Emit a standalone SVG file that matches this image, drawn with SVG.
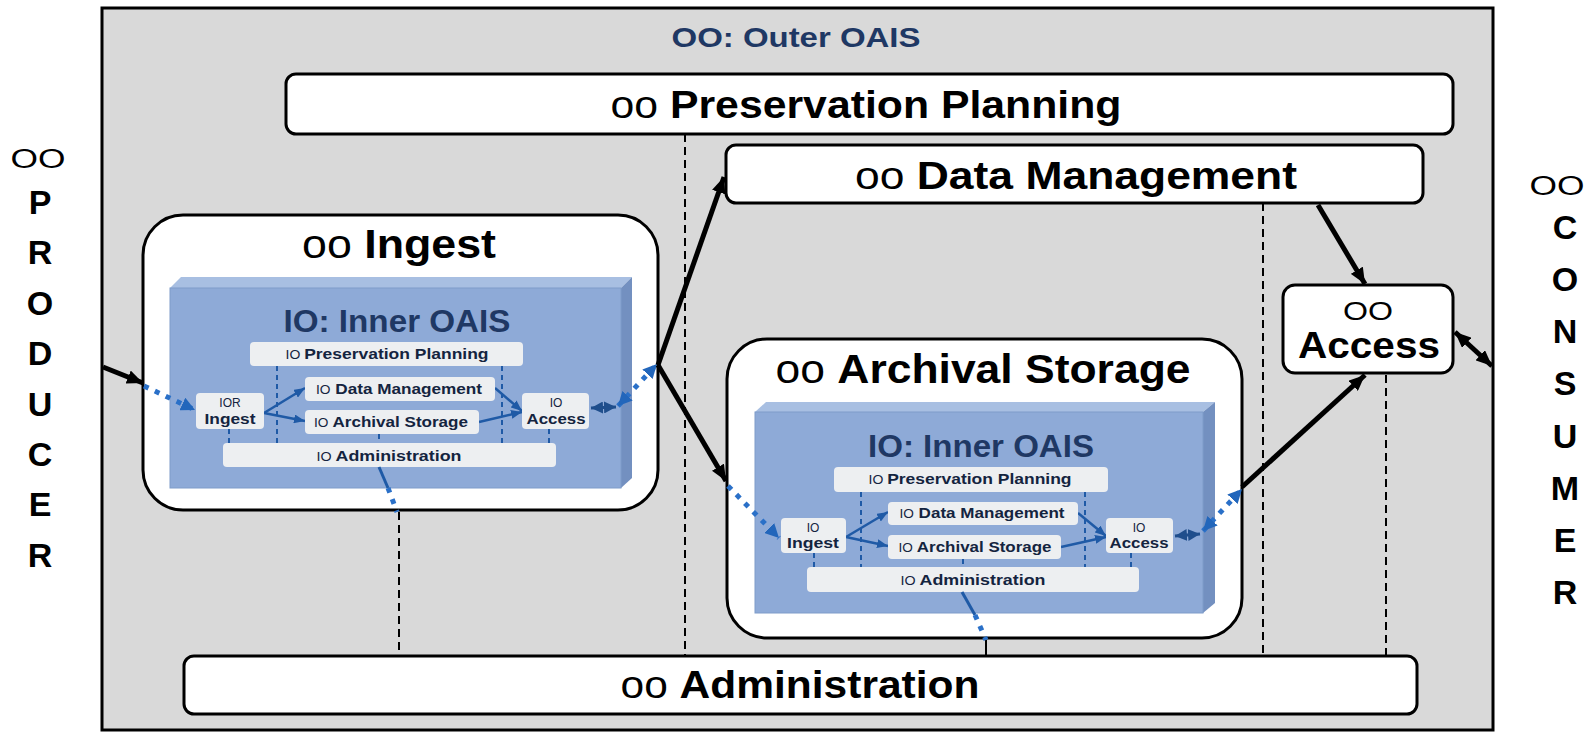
<svg xmlns="http://www.w3.org/2000/svg" width="1591" height="735" viewBox="0 0 1591 735">
<style>
.big{font-family:"Liberation Sans",Arial,sans-serif;fill:#000}
.b{font-weight:bold}
.r{font-weight:normal}
.box{fill:#fff;stroke:#000;stroke-width:3}
.title{font-family:"Liberation Sans",Arial,sans-serif;font-weight:bold;fill:#1f3864}
.ib{fill:#f2f2f2;fill-opacity:0.95}
.it{font-family:"Liberation Sans",Arial,sans-serif;font-weight:bold;font-size:15px;fill:#14243f}
.io{font-weight:normal;font-size:12px}
.front{fill:#8eaad7;stroke:#7e9cc9;stroke-width:1}
.top{fill:#a8bfe2}
.side{fill:#7390c0}
.dash{stroke:#000;stroke-width:2;stroke-dasharray:8 5;fill:none}
.bdash{stroke:#1f5aa6;stroke-width:2;stroke-dasharray:5 4;fill:none}
.blk{stroke:#000;stroke-width:5;fill:none}
.barr{stroke:#1f5aa6;stroke-width:2.5;fill:none}
.dot{stroke:#2a70c8;stroke-width:5;stroke-dasharray:5 7;fill:none}
.bsolid{stroke:#1f5aa6;stroke-width:3;fill:none}
.side-l{font-family:"Liberation Sans",Arial,sans-serif;font-weight:bold;font-size:34px;fill:#000}
.oo{font-family:"Liberation Sans",Arial,sans-serif;font-weight:normal;font-size:27px;fill:#000}
</style>
<defs>
<marker id="ah" viewBox="0 0 16 14" refX="16" refY="7" markerWidth="16" markerHeight="14" markerUnits="userSpaceOnUse" orient="auto-start-reverse"><path d="M0,0 L16,7 L0,14 z" fill="#000"/></marker>
<marker id="bh" viewBox="0 0 11 9" refX="11" refY="4.5" markerWidth="11" markerHeight="9" markerUnits="userSpaceOnUse" orient="auto-start-reverse"><path d="M0,0 L11,4.5 L0,9 z" fill="#1f5aa6"/></marker>
<marker id="dh" viewBox="0 0 14 14" refX="14" refY="7" markerWidth="14" markerHeight="14" markerUnits="userSpaceOnUse" orient="auto-start-reverse"><path d="M0,0 L14,7 L0,14 z" fill="#2266bb"/></marker>
<marker id="nh" viewBox="0 0 12 12" refX="12" refY="6" markerWidth="12" markerHeight="12" markerUnits="userSpaceOnUse" orient="auto-start-reverse"><path d="M0,0 L12,6 L0,12 z" fill="#1f4e8c"/></marker>
</defs>

<g id="outer-oais">
<rect x="102" y="8" width="1391" height="722" fill="#d9d9d9" stroke="#000" stroke-width="3"/>
<text class="title" x="796" y="47" font-size="27" text-anchor="middle" textLength="249" lengthAdjust="spacingAndGlyphs">OO: Outer OAIS</text>
</g>

<g id="producer">
<text class="oo" x="38" y="168" text-anchor="middle" textLength="55" lengthAdjust="spacingAndGlyphs">OO</text>
<text class="side-l" text-anchor="middle">
<tspan x="40" y="214">P</tspan><tspan x="40" y="264">R</tspan><tspan x="40" y="315">O</tspan><tspan x="40" y="365">D</tspan><tspan x="40" y="416">U</tspan><tspan x="40" y="466">C</tspan><tspan x="40" y="516">E</tspan><tspan x="40" y="567">R</tspan>
</text>
</g>

<g id="consumer">
<text class="oo" x="1557" y="195" text-anchor="middle" textLength="55" lengthAdjust="spacingAndGlyphs">OO</text>
<text class="side-l" text-anchor="middle">
<tspan x="1565" y="239">C</tspan><tspan x="1565" y="291">O</tspan><tspan x="1565" y="343">N</tspan><tspan x="1565" y="395">S</tspan><tspan x="1565" y="448">U</tspan><tspan x="1565" y="500">M</tspan><tspan x="1565" y="552">E</tspan><tspan x="1565" y="604">R</tspan>
</text>
</g>

<g id="dashed-links">
<line class="dash" x1="685" y1="134" x2="685" y2="655"/>
<line class="dash" x1="1263" y1="203" x2="1263" y2="655"/>
<line class="dash" x1="1386" y1="375" x2="1386" y2="655"/>
<line class="dash" x1="399" y1="512" x2="399" y2="655"/>
<line stroke="#000" stroke-width="2" x1="986" y1="640" x2="986" y2="655"/>
</g>

<g id="preservation-planning">
<rect class="box" x="286" y="74" width="1167" height="60" rx="10"/>
<text class="big" x="866" y="118" font-size="39" text-anchor="middle" textLength="511" lengthAdjust="spacingAndGlyphs"><tspan class="r">oo </tspan><tspan class="b">Preservation  Planning</tspan></text>
</g>

<g id="data-management">
<rect class="box" x="726" y="145" width="697" height="58" rx="10"/>
<text class="big" x="1076" y="189" font-size="39" text-anchor="middle" textLength="442" lengthAdjust="spacingAndGlyphs"><tspan class="r">oo  </tspan><tspan class="b">Data Management</tspan></text>
</g>

<g id="administration">
<rect class="box" x="184" y="656" width="1233" height="58" rx="10"/>
<text class="big" x="800" y="698" font-size="39" text-anchor="middle" textLength="359" lengthAdjust="spacingAndGlyphs"><tspan class="r">oo </tspan><tspan class="b">Administration</tspan></text>
</g>

<g id="access">
<rect class="box" x="1283" y="285" width="170" height="88" rx="12"/>
<text class="big r" x="1368" y="320" font-size="26" text-anchor="middle" textLength="50" lengthAdjust="spacingAndGlyphs">OO</text>
<text class="big b" x="1369" y="358" font-size="36" text-anchor="middle" textLength="142" lengthAdjust="spacingAndGlyphs">Access</text>
</g>

<g id="ingest">
<rect class="box" x="143" y="215" width="515" height="295" rx="40"/>
<text class="big" x="399" y="258" font-size="40" text-anchor="middle" textLength="194" lengthAdjust="spacingAndGlyphs"><tspan class="r">oo  </tspan><tspan class="b">Ingest</tspan></text>
<polygon class="top" points="170,288 181,277 632,277 621,288"/>
<polygon class="side" points="621,288 632,277 632,478 621,488"/>
<rect class="front" x="170" y="288" width="451" height="200"/>
<text class="title" x="397" y="332" font-size="31" text-anchor="middle" textLength="227" lengthAdjust="spacingAndGlyphs">IO: Inner OAIS</text>
<g id="ingest-io-links">
<line class="bdash" x1="229" y1="429" x2="229" y2="443"/>
<line class="bdash" x1="277" y1="366" x2="277" y2="443"/>
<line class="bdash" x1="379" y1="434" x2="379" y2="443"/>
<line class="bdash" x1="502" y1="366" x2="502" y2="443"/>
<line class="bdash" x1="549" y1="429" x2="549" y2="443"/>
<line class="barr" x1="264" y1="413" x2="305" y2="388" marker-end="url(#bh)"/>
<line class="barr" x1="264" y1="413" x2="305" y2="421" marker-end="url(#bh)"/>
<line class="barr" x1="495" y1="388" x2="522" y2="411" marker-end="url(#bh)"/>
<line class="barr" x1="479" y1="422" x2="522" y2="412" marker-end="url(#bh)"/>
<line stroke="#1f4e8c" stroke-width="3" x1="591" y1="408" x2="616" y2="407" marker-start="url(#nh)" marker-end="url(#nh)"/>
</g>
<rect class="ib" x="250" y="342" width="273" height="24" rx="4"/>
<text class="it" x="387" y="359" text-anchor="middle" textLength="203" lengthAdjust="spacingAndGlyphs"><tspan class="io">IO </tspan> Preservation Planning</text>
<rect class="ib" x="305" y="377" width="190" height="24" rx="4"/>
<text class="it" x="399" y="394" text-anchor="middle" textLength="166" lengthAdjust="spacingAndGlyphs"><tspan class="io">IO</tspan> Data Management</text>
<rect class="ib" x="305" y="410" width="174" height="24" rx="4"/>
<text class="it" x="391" y="427" text-anchor="middle" textLength="154" lengthAdjust="spacingAndGlyphs"><tspan class="io">IO</tspan> Archival Storage</text>
<rect class="ib" x="196" y="393" width="68" height="36" rx="4"/>
<text class="it" x="230" y="407" text-anchor="middle"><tspan class="io" font-size="13">IOR</tspan></text>
<text class="it" x="230" y="424" text-anchor="middle" font-size="16" textLength="51" lengthAdjust="spacingAndGlyphs">Ingest</text>
<rect class="ib" x="522" y="393" width="67" height="36" rx="4"/>
<text class="it" x="556" y="407" text-anchor="middle"><tspan class="io" font-size="13">IO</tspan></text>
<text class="it" x="556" y="424" text-anchor="middle" font-size="16" textLength="59" lengthAdjust="spacingAndGlyphs">Access</text>
<rect class="ib" x="223" y="443" width="333" height="24" rx="4"/>
<text class="it" x="389" y="461" text-anchor="middle" textLength="145" lengthAdjust="spacingAndGlyphs"><tspan class="io">IO </tspan> Administration</text>
</g>

<g id="archival-storage">
<rect class="box" x="727" y="339" width="515" height="299" rx="40"/>
<text class="big" x="983" y="383" font-size="40" text-anchor="middle" textLength="415" lengthAdjust="spacingAndGlyphs"><tspan class="r">oo  </tspan><tspan class="b">Archival  Storage</tspan></text>
<polygon class="top" points="755,412 766,402 1215,402 1203,412"/>
<polygon class="side" points="1203,412 1215,402 1215,603 1203,613"/>
<rect class="front" x="755" y="412" width="448" height="201"/>
<text class="title" x="981" y="457" font-size="31" text-anchor="middle" textLength="226" lengthAdjust="spacingAndGlyphs">IO: Inner OAIS</text>
<g id="archival-io-links">
<line class="bdash" x1="814" y1="553" x2="814" y2="567"/>
<line class="bdash" x1="861" y1="492" x2="861" y2="567"/>
<line class="bdash" x1="963" y1="559" x2="963" y2="567"/>
<line class="bdash" x1="1085" y1="492" x2="1085" y2="567"/>
<line class="bdash" x1="1131" y1="553" x2="1131" y2="567"/>
<line class="barr" x1="846" y1="537" x2="888" y2="512" marker-end="url(#bh)"/>
<line class="barr" x1="846" y1="537" x2="888" y2="546" marker-end="url(#bh)"/>
<line class="barr" x1="1078" y1="513" x2="1106" y2="536" marker-end="url(#bh)"/>
<line class="barr" x1="1061" y1="547" x2="1106" y2="537" marker-end="url(#bh)"/>
<line stroke="#1f4e8c" stroke-width="3" x1="1175" y1="536" x2="1200" y2="534" marker-start="url(#nh)" marker-end="url(#nh)"/>
</g>
<rect class="ib" x="834" y="467" width="274" height="25" rx="4"/>
<text class="it" x="970" y="484" text-anchor="middle" textLength="203" lengthAdjust="spacingAndGlyphs"><tspan class="io">IO </tspan> Preservation Planning</text>
<rect class="ib" x="888" y="502" width="190" height="23" rx="4"/>
<text class="it" x="982" y="518" text-anchor="middle" textLength="165" lengthAdjust="spacingAndGlyphs"><tspan class="io">IO</tspan> Data Management</text>
<rect class="ib" x="888" y="535" width="173" height="24" rx="4"/>
<text class="it" x="975" y="552" text-anchor="middle" textLength="153" lengthAdjust="spacingAndGlyphs"><tspan class="io">IO</tspan> Archival Storage</text>
<rect class="ib" x="781" y="518" width="65" height="35" rx="4"/>
<text class="it" x="813" y="532" text-anchor="middle"><tspan class="io" font-size="13">IO</tspan></text>
<text class="it" x="813" y="548" text-anchor="middle" font-size="16" textLength="52" lengthAdjust="spacingAndGlyphs">Ingest</text>
<rect class="ib" x="1106" y="518" width="67" height="35" rx="4"/>
<text class="it" x="1139" y="532" text-anchor="middle"><tspan class="io" font-size="13">IO</tspan></text>
<text class="it" x="1139" y="548" text-anchor="middle" font-size="16" textLength="59" lengthAdjust="spacingAndGlyphs">Access</text>
<rect class="ib" x="807" y="567" width="332" height="25" rx="4"/>
<text class="it" x="973" y="585" text-anchor="middle" textLength="145" lengthAdjust="spacingAndGlyphs"><tspan class="io">IO </tspan> Administration</text>
</g>

<g id="connectors">
<line class="blk" x1="103" y1="367" x2="143" y2="383" marker-end="url(#ah)"/>
<line class="dot" x1="144" y1="386" x2="195" y2="410" marker-end="url(#dh)"/>
<line class="dot" x1="618" y1="406" x2="657" y2="364" marker-start="url(#dh)" marker-end="url(#dh)"/>
<line class="bsolid" x1="379" y1="467" x2="388" y2="488"/>
<line class="dot" x1="388" y1="488" x2="397" y2="512"/>
<line class="blk" x1="658" y1="365" x2="724" y2="177" marker-end="url(#ah)"/>
<line class="blk" x1="658" y1="365" x2="726" y2="481" marker-end="url(#ah)"/>
<line class="dot" x1="728" y1="486" x2="779" y2="538" marker-end="url(#dh)"/>
<line class="dot" x1="1203" y1="531" x2="1242" y2="489" marker-start="url(#dh)" marker-end="url(#dh)"/>
<line class="bsolid" x1="962" y1="592" x2="975" y2="615"/>
<line class="dot" x1="975" y1="615" x2="986" y2="640"/>
<line class="blk" x1="1242" y1="487" x2="1365" y2="375" marker-end="url(#ah)"/>
<line class="blk" x1="1318" y1="205" x2="1365" y2="284" marker-end="url(#ah)"/>
<line class="blk" x1="1455" y1="332" x2="1492" y2="366" marker-start="url(#ah)" marker-end="url(#ah)"/>
</g>
</svg>
